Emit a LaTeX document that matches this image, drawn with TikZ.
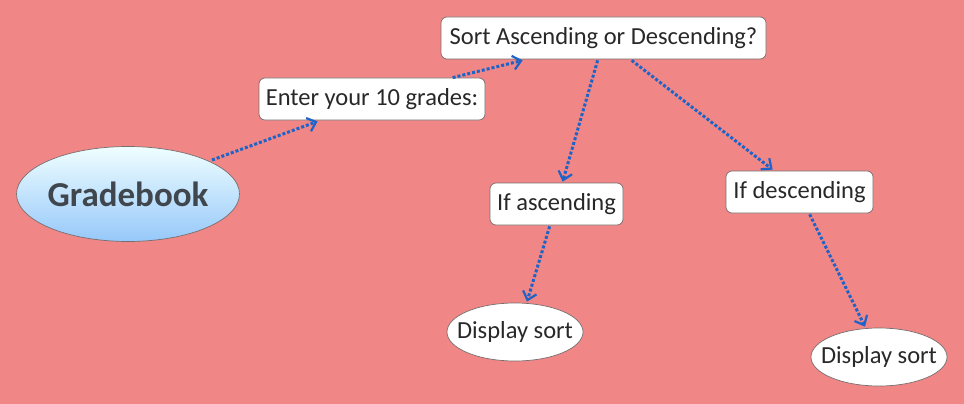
\documentclass[tikz,border=0pt]{standalone}
\usepackage{fontspec}
\setmainfont{Carlito}
\usetikzlibrary{arrows.meta,calc,shapes.geometric}
\definecolor{bgc}{RGB}{240,134,134}
\definecolor{arrc}{RGB}{30,100,200}
\definecolor{txt}{RGB}{40,40,40}
\definecolor{bordc}{RGB}{120,110,110}
\tikzset{
  box/.style={draw=bordc, line width=0.7pt, fill=white, rounded corners=6pt, inner sep=0pt, text=txt, font=\fontsize{24.5}{28}\selectfont, anchor=center},
  oval/.style={ellipse, draw=bordc, line width=0.7pt, fill=white, inner xsep=-12pt, inner ysep=0pt, text=txt, font=\fontsize{24.5}{28}\selectfont},
  conn/.style={draw=arrc, line width=3pt, dash pattern=on 3pt off 2pt, -{Straight Barb[length=8pt,width=14pt,line width=2.2pt]}}
}
\begin{document}
\begin{tikzpicture}[x=1pt,y=-1pt]
\fill[bgc] (0,0) rectangle (964,404);
\useasboundingbox (0,0) rectangle (964,404);
\node[ellipse, draw=bordc, line width=0.7pt, top color=blue!5!cyan!6, bottom color={rgb,255:red,150;green,200;blue,250}, minimum width=223pt, minimum height=95pt, inner xsep=-2pt, inner ysep=0pt, text={rgb,255:red,64;green,70;blue,78}, font=\bfseries\fontsize{35}{40}\selectfont] (gb) at (128,194) {Gradebook};
\node[box, minimum width=226pt, minimum height=42pt] (enter) at (372,99) {Enter your 10 grades:};
\node[box, minimum width=325pt, minimum height=42pt] (sort) at (603.5,38) {Sort Ascending or Descending?};
\node[box, minimum width=133pt, minimum height=42pt] (asc) at (556.5,204) {If ascending};
\node[box, minimum width=147pt, minimum height=42pt] (desc) at (799.5,192) {If descending};
\node[oval, minimum width=136pt, minimum height=58pt] (d1) at (515,332) {Display sort};
\node[oval, minimum width=136pt, minimum height=58pt] (d2) at (879,357) {Display sort};
\draw[conn] ($(gb.center)+(84,-34)$) -- ($(enter.south west)+(59,1)$);
\draw[conn] ($(enter.north west)+(194,0)$) -- ($(sort.south west)+(82,1)$);
\draw[conn] ($(sort.south west)+(157,1)$) -- ($(asc.north west)+(73,-1)$);
\draw[conn] ($(sort.south west)+(191,1)$) -- ($(desc.north west)+(47,-1)$);
\draw[conn] ($(asc.south west)+(60,1)$) -- ($(d1.north)+(12,-1)$);
\draw[conn] ($(desc.south west)+(84,1)$) -- ($(d2.north)+(-14,-1)$);
\end{tikzpicture}
\end{document}
